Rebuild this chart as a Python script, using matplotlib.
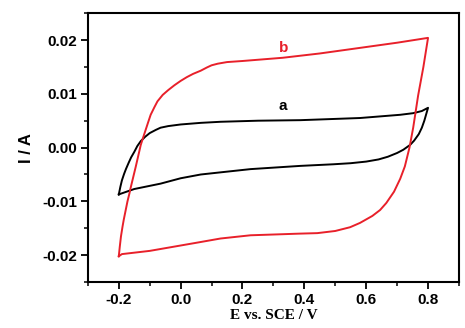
import matplotlib
matplotlib.use('Agg')
import matplotlib.pyplot as plt
import numpy as np
from matplotlib.ticker import MultipleLocator

# curve b (red): forward sweep then reverse sweep
b_fwd_e = [-0.2, -0.197, -0.193, -0.188, -0.184, -0.178, -0.172, -0.166, -0.161, -0.153,
           -0.145, -0.137, -0.129, -0.12, -0.112, -0.104, -0.097, -0.085, -0.075, -0.058,
           -0.04, -0.02, 0.0, 0.02, 0.04, 0.065, 0.085, 0.1, 0.12, 0.15, 0.2, 0.33, 0.45,
           0.6, 0.7, 0.8]
b_fwd_i = [-0.0202, -0.0185, -0.0165, -0.0147, -0.0134, -0.0117, -0.0100, -0.0086, -0.0073,
           -0.0054, -0.0035, -0.0015, 0.0005, 0.0021, 0.0035, 0.0049, 0.0061, 0.0075, 0.0086,
           0.0098, 0.0107, 0.0116, 0.0124, 0.0131, 0.0137, 0.0143, 0.0149, 0.0153, 0.0156,
           0.0159, 0.0161, 0.0167, 0.0175, 0.0187, 0.0195, 0.0204]
b_rev_e = [0.8, 0.785, 0.768, 0.752, 0.74, 0.725, 0.71, 0.69, 0.665, 0.645, 0.62, 0.58,
           0.548, 0.5, 0.442, 0.38, 0.33, 0.226, 0.129, 0.05, -0.01, -0.1, -0.19, -0.2]
b_rev_i = [0.0204, 0.0150, 0.0097, 0.0037, 0.0000, -0.0035, -0.0058, -0.0082, -0.0103,
           -0.0116, -0.0127, -0.0140, -0.0148, -0.0155, -0.0159, -0.0160, -0.0161, -0.0163,
           -0.0169, -0.0177, -0.0183, -0.0192, -0.0198, -0.0202]

# curve a (black)
a_fwd_e = [-0.2, -0.195, -0.19, -0.183, -0.177, -0.168, -0.16, -0.15, -0.14, -0.129,
           -0.115, -0.1, -0.08, -0.065, -0.04, 0.0, 0.065, 0.129, 0.25, 0.387, 0.58,
           0.71, 0.752, 0.78, 0.8]
a_fwd_i = [-0.0087, -0.0073, -0.0061, -0.0049, -0.0040, -0.0028, -0.0018, -0.0008, 0.0003,
           0.0012, 0.0020, 0.0027, 0.0033, 0.0037, 0.0040, 0.0043, 0.0046, 0.0048, 0.0050,
           0.0051, 0.0055, 0.0061, 0.0064, 0.0068, 0.0074]
a_rev_e = [0.8, 0.795, 0.788, 0.78, 0.77, 0.755, 0.742, 0.72, 0.7, 0.67, 0.64, 0.6, 0.55,
           0.494, 0.387, 0.226, 0.129, 0.065, 0.0, -0.065, -0.15, -0.2]
a_rev_i = [0.0074, 0.0064, 0.0050, 0.0037, 0.0025, 0.0013, 0.0005, -0.0004, -0.0010,
           -0.0017, -0.0022, -0.0026, -0.0029, -0.0031, -0.0034, -0.0040, -0.0046, -0.0050,
           -0.0057, -0.0067, -0.0077, -0.0087]

fig = plt.figure(figsize=(4.65, 3.28), dpi=100)
ax = fig.add_axes([0.189, 0.14, 0.798, 0.82])

ax.plot(a_fwd_e + a_rev_e, a_fwd_i + a_rev_i, color='black', lw=1.4)
ax.plot(b_fwd_e + b_rev_e, b_fwd_i + b_rev_i, color='#e8202a', lw=1.4)

ax.text(0.33, 0.0077, 'a', color='black', fontsize=11, fontweight='bold',
        family='Liberation Sans', ha='center', va='center')
ax.text(0.332, 0.0186, 'b', color='#e8202a', fontsize=11, fontweight='bold',
        family='Liberation Sans', ha='center', va='center')

ax.set_xlim(-0.3, 0.9)
ax.set_ylim(-0.025, 0.025)
ax.xaxis.set_minor_locator(MultipleLocator(0.1))
ax.yaxis.set_minor_locator(MultipleLocator(0.005))
ax.set_xticks(np.arange(-0.2, 0.81, 0.2))
ax.set_xticklabels(['-0.2', '0.0', '0.2', '0.4', '0.6', '0.8'])
ax.set_yticks(np.arange(-0.02, 0.021, 0.01))
ax.set_yticklabels(['-0.02', '-0.01', '0.00', '0.01', '0.02'])

ax.tick_params(which='major', direction='out', length=5, width=1.3, top=False, right=False, pad=3)
ax.tick_params(which='minor', direction='out', length=3, width=1.1, top=False, right=False)
for lab in ax.get_xticklabels() + ax.get_yticklabels():
    lab.set_fontfamily('Liberation Sans')
    lab.set_fontweight('bold')
    lab.set_fontsize(11)
for sp in ax.spines.values():
    sp.set_linewidth(1.5)

ax.set_ylabel('I / A', fontsize=12, fontweight='bold', family='Liberation Sans', labelpad=6)
ax.set_xlabel('E vs. SCE / V', fontsize=11, fontweight='bold', family='Liberation Serif', labelpad=1)

fig.savefig('out.png', dpi=100)
